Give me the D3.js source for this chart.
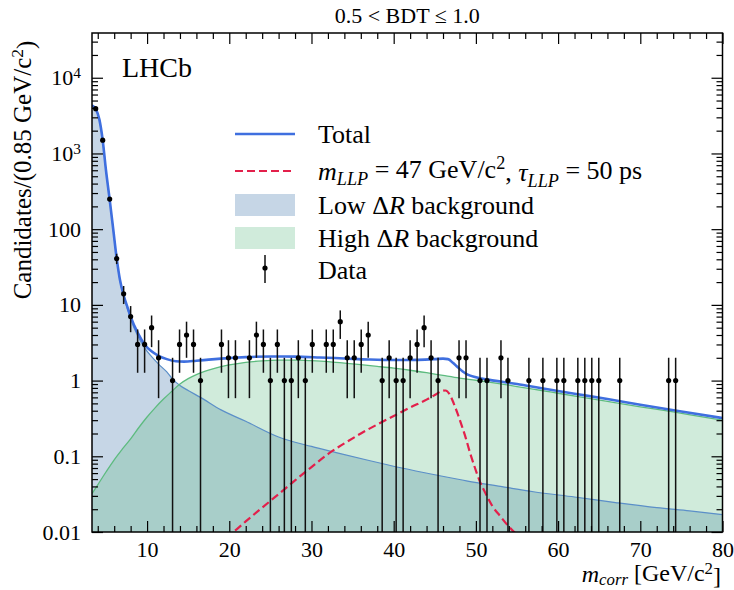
<!DOCTYPE html>
<html><head><meta charset="utf-8">
<script src="https://cdn.jsdelivr.net/npm/d3@7"></script>
<style>
body{margin:0;background:#fff}
svg{display:block}
text{font-family:"Liberation Serif","DejaVu Serif",serif;fill:#000}
</style>
</head><body>
<svg id="c" width="734" height="590"></svg>
<script>
// ---- data ----
const dataX = [3.75,4.6,5.45,6.3,7.15,8.0,8.85,9.7,10.55,11.4,13.1,13.95,14.8,15.65,16.5,19.05,19.9,20.75,22.45,23.3,24.15,25.0,25.85,26.7,27.55,28.4,29.25,30.1,31.8,32.65,33.5,34.35,35.2,36.05,36.9,38.6,39.45,40.3,41.15,42.0,42.85,43.7,44.55,45.4,47.95,48.8,50.5,51.35,53.05,53.9,56.45,58.15,59.85,60.7,62.4,63.25,64.1,64.95,67.5,73.45,74.3];
const dataCounts = [3900,1500,250,41,14,7,3,3,5,2,1,3,4,3,1,3,2,2,2,4,3,1,3,1,1,2,1,3,3,3,6,2,2,3,4,1,2,1,1,2,3,5,2,1,2,2,1,1,2,1,1,1,1,1,1,1,1,1,1,1,1];

const totalX = [3.3,3.75,4.2,4.6,5.0,5.45,5.9,6.3,6.7,7.15,7.6,8.0,8.85,9.7,10.5,11.4,12.4,13.5,14.5,16,17.5,19,22,25,28,31,34,37,40,43,45,46,46.6,47.2,47.8,48.4,49,50,51.5,53,55,58,62,66,70,75,80];
const totalY = [4300,3870,2800,1500,600,246,96,41.5,21.5,13.4,9.4,7.0,4.3,3.0,2.45,2.12,1.92,1.8,1.78,1.83,1.89,1.95,2.04,2.08,2.07,2.02,1.96,1.9,1.87,1.88,1.92,1.95,1.92,1.72,1.5,1.32,1.2,1.11,1.03,0.97,0.9,0.79,0.67,0.57,0.48,0.39,0.32];

const lowX = [3.3,3.75,4.2,4.6,5.0,5.45,5.9,6.3,6.7,7.15,7.6,8.0,8.85,9.7,10.5,11.4,12.4,13,14,15,16.5,19,22,26,30,33,37,41,45,49,53,57,62,67,72,76,80];
const lowY = [4300,3850,2800,1500,600,245,95,41,21,13,9,6.5,3.9,2.7,2.1,1.65,1.3,1.08,0.86,0.74,0.6,0.41,0.29,0.18,0.135,0.112,0.088,0.07,0.057,0.047,0.04,0.034,0.029,0.0245,0.021,0.019,0.017];

const highX = [3.3,4,5,6,7,8,9,10,11,12,13,14,15,16,17,18,19,20,22,24,26,28,30,32,34,36,38,40,42,44,46,48,50,52,54,56,58,60,63,66,70,74,77,80];
const highY = [0.032,0.042,0.062,0.09,0.125,0.17,0.24,0.33,0.44,0.57,0.72,0.9,1.06,1.2,1.32,1.43,1.53,1.61,1.74,1.82,1.86,1.86,1.83,1.78,1.70,1.62,1.54,1.46,1.37,1.27,1.17,1.08,1.01,0.94,0.87,0.8,0.74,0.68,0.6,0.53,0.45,0.385,0.34,0.30];

const sigX = [19.5,20.5,22,24,26,28,30,32,34,36,38,40,42,44,45,45.8,46.3,46.8,47.3,47.8,48.3,48.8,49.3,49.8,50.5,51.2,52,53,54,55,56];
const sigY = [0.0085,0.01,0.0138,0.021,0.0316,0.048,0.072,0.107,0.148,0.2,0.263,0.34,0.44,0.56,0.645,0.725,0.74,0.66,0.5,0.36,0.25,0.17,0.11,0.075,0.046,0.032,0.022,0.016,0.0118,0.0092,0.0075];

const xMajorTicks = [10,20,30,40,50,60,70,80];
const yTickValues = [0.01,0.1,1,10,100,1000,10000];
const yTickLabels = ["0.01","0.1","1","10","100","10^3","10^4"];

// ---- layout ----
const L=92, R=722.5, T=33, B=532;
const x = d3.scaleLinear().domain([3.3,80]).range([L,R]);
const y = d3.scaleLog().domain([0.01,3.9e4]).range([B,T]);
const svg = d3.select("#c");

svg.append("defs").append("clipPath").attr("id","clip")
  .append("rect").attr("x",L).attr("y",T).attr("width",R-L).attr("height",B-T);
const g = svg.append("g").attr("clip-path","url(#clip)");

const BLUEF = "rgb(65,118,172)", GREENF = "rgb(98,188,135)";
function areaPath(xs, ys){
  return d3.area().x((d,i)=>x(xs[i])).y0(B).y1(d=>y(d)).curve(d3.curveMonotoneX)(ys);
}
function linePath(xs, ys){
  return d3.line().x((d,i)=>x(xs[i])).y(d=>y(d)).curve(d3.curveMonotoneX)(ys);
}
g.append("path").attr("d",areaPath(lowX,lowY)).attr("fill",BLUEF).attr("fill-opacity",0.3);
g.append("path").attr("d",areaPath(highX,highY)).attr("fill",GREENF).attr("fill-opacity",0.3);
g.append("path").attr("d",linePath(lowX,lowY)).attr("fill","none").attr("stroke","#5b8fc8").attr("stroke-width",1.2);
g.append("path").attr("d",linePath(highX,highY)).attr("fill","none").attr("stroke","#5dbb7f").attr("stroke-width",1.3);
g.append("path").attr("d",linePath(sigX,sigY)).attr("fill","none").attr("stroke","#e3204b").attr("stroke-width",2.2).attr("stroke-dasharray","8,4");
g.append("path").attr("d",linePath(totalX,totalY)).attr("fill","none").attr("stroke","#3f6fdf").attr("stroke-width",2.6);

// data with sqrt(N) errors
const pts = dataX.map((v,i)=>({x:v,n:dataCounts[i]}));
g.selectAll("line.err").data(pts).enter().append("line")
  .attr("x1",d=>x(d.x)).attr("x2",d=>x(d.x))
  .attr("y1",d=>{const lo=d.n-Math.sqrt(d.n); return lo>0.01? y(lo): B+5;})
  .attr("y2",d=>y(d.n+Math.sqrt(d.n)))
  .attr("stroke","#111").attr("stroke-width",1.5);
g.selectAll("circle.pt").data(pts).enter().append("circle")
  .attr("cx",d=>x(d.x)).attr("cy",d=>y(d.n)).attr("r",2.6).attr("fill","#000");

// ---- axes ----
const xMinor = d3.range(4,80,2).filter(v=>v%10!==0);
const yMinor = [];
for (let e=-2;e<=4;e++) for (let m=2;m<=9;m++){ const v=m*Math.pow(10,e); if (v<3.9e4) yMinor.push(v); }

function styleAxis(sel){
  sel.select(".domain").remove();
  sel.selectAll(".tick line").attr("stroke","#000").attr("stroke-width",1.2);
  sel.selectAll("text").style("font-family",'"Liberation Serif","DejaVu Serif",serif');
}
const xb = svg.append("g").attr("transform",`translate(0,${B})`)
  .call(d3.axisBottom(x).tickValues(xMajorTicks).tickSize(-11).tickPadding(9).tickFormat(d3.format("d")));
styleAxis(xb); xb.selectAll("text").attr("font-size",22);
styleAxis(svg.append("g").attr("transform",`translate(0,${B})`).call(d3.axisBottom(x).tickValues(xMinor).tickSize(-6).tickFormat("")));
styleAxis(svg.append("g").attr("transform",`translate(0,${T})`).call(d3.axisTop(x).tickValues(xMajorTicks).tickSize(-11).tickFormat("")));
styleAxis(svg.append("g").attr("transform",`translate(0,${T})`).call(d3.axisTop(x).tickValues(xMinor).tickSize(-6).tickFormat("")));

const yl = svg.append("g").attr("transform",`translate(${L},0)`)
  .call(d3.axisLeft(y).tickValues(yTickValues).tickSize(-11).tickPadding(11).tickFormat((d,i)=>yTickLabels[i]));
styleAxis(yl);
yl.selectAll("text").attr("font-size",22).each(function(d,i){
  const lab = yTickLabels[i];
  if (lab.includes("^")){
    const [b,e] = lab.split("^");
    const t = d3.select(this).text(null);
    t.append("tspan").text(b);
    t.append("tspan").attr("dy","-0.45em").attr("font-size","70%").text(e);
  }
});
styleAxis(svg.append("g").attr("transform",`translate(${L},0)`).call(d3.axisLeft(y).tickValues(yMinor).tickSize(-6).tickFormat("")));
styleAxis(svg.append("g").attr("transform",`translate(${R},0)`).call(d3.axisRight(y).tickValues(yTickValues).tickSize(-11).tickFormat("")));
styleAxis(svg.append("g").attr("transform",`translate(${R},0)`).call(d3.axisRight(y).tickValues(yMinor).tickSize(-6).tickFormat("")));

svg.append("rect").attr("x",L).attr("y",T).attr("width",R-L).attr("height",B-T)
  .attr("fill","none").attr("stroke","#000").attr("stroke-width",1.5);

// ---- texts ----
svg.append("text").attr("x",(L+R)/2).attr("y",23).attr("text-anchor","middle").attr("font-size",22)
  .text("0.5 < BDT \u2264 1.0");
svg.append("text").attr("x",122).attr("y",77).attr("font-size",28).text("LHCb");

const ylab = svg.append("text").attr("transform","translate(31,170) rotate(-90)").attr("text-anchor","middle").attr("font-size",25);
ylab.append("tspan").text("Candidates/(0.85 GeV/c");
ylab.append("tspan").attr("dy","-0.45em").attr("font-size","70%").text("2");
ylab.append("tspan").attr("dy","0.45em").text(")");

const xlab = svg.append("text").attr("x",721).attr("y",582).attr("text-anchor","end").attr("font-size",24);
xlab.append("tspan").attr("font-style","italic").text("m");
xlab.append("tspan").attr("font-style","italic").attr("font-size","70%").attr("dy","0.15em").text("corr");
xlab.append("tspan").attr("dy","-0.15em").text(" [GeV/c");
xlab.append("tspan").attr("dy","-0.4em").attr("font-size","70%").text("2");
xlab.append("tspan").attr("dy","0.4em").text("]");

// ---- legend ----
const lx0=235, lx1=295, tx=318, fs=26;
svg.append("line").attr("x1",lx0).attr("x2",lx1).attr("y1",134).attr("y2",134).attr("stroke","#3f6fdf").attr("stroke-width",2.6);
svg.append("text").attr("x",tx).attr("y",143).attr("font-size",fs).text("Total");

svg.append("line").attr("x1",lx0).attr("x2",lx1).attr("y1",171).attr("y2",171).attr("stroke","#e3204b").attr("stroke-width",2.2).attr("stroke-dasharray","8,4");
const t2 = svg.append("text").attr("x",tx).attr("y",180).attr("font-size",fs);
t2.append("tspan").attr("font-style","italic").text("m");
t2.append("tspan").attr("font-style","italic").attr("font-size","70%").attr("dy","0.3em").text("LLP");
t2.append("tspan").attr("dy","-0.3em").text(" = 47 GeV/c");
t2.append("tspan").attr("dy","-0.45em").attr("font-size","70%").text("2");
t2.append("tspan").attr("dy","0.45em").text(", ");
t2.append("tspan").attr("font-style","italic").text("\u03C4");
t2.append("tspan").attr("font-style","italic").attr("font-size","70%").attr("dy","0.3em").text("LLP");
t2.append("tspan").attr("dy","-0.3em").text(" = 50 ps");

svg.append("rect").attr("x",lx0).attr("y",194).attr("width",lx1-lx0).attr("height",22).attr("fill",BLUEF).attr("fill-opacity",0.3);
const t3 = svg.append("text").attr("x",tx).attr("y",214).attr("font-size",fs);
t3.append("tspan").text("Low \u0394");
t3.append("tspan").attr("font-style","italic").text("R");
t3.append("tspan").text(" background");

svg.append("rect").attr("x",lx0).attr("y",227).attr("width",lx1-lx0).attr("height",22).attr("fill",GREENF).attr("fill-opacity",0.3);
const t4 = svg.append("text").attr("x",tx).attr("y",247).attr("font-size",fs);
t4.append("tspan").text("High \u0394");
t4.append("tspan").attr("font-style","italic").text("R");
t4.append("tspan").text(" background");

svg.append("line").attr("x1",265).attr("x2",265).attr("y1",255).attr("y2",283).attr("stroke","#111").attr("stroke-width",1.5);
svg.append("circle").attr("cx",265).attr("cy",268).attr("r",2.6).attr("fill","#000");
svg.append("text").attr("x",tx).attr("y",279).attr("font-size",fs).text("Data");
</script>
</body></html>
